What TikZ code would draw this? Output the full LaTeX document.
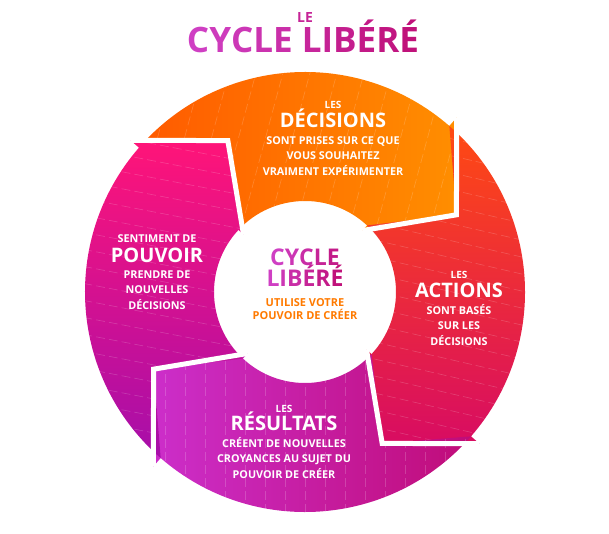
\documentclass[tikz,border=0pt]{standalone}
\usepackage{fontspec}
\setmainfont{Open Sans}
\usepackage{tkz-euclide}
\tikzset{>=stealth}
\definecolor{orangeA}{HTML}{FF5A00}
\definecolor{orangeB}{HTML}{FF8E00}
\definecolor{rougeA}{HTML}{FF4A12}
\definecolor{rougeB}{HTML}{D80C62}
\definecolor{violetA}{HTML}{CC2ECA}
\definecolor{violetB}{HTML}{C00C78}
\definecolor{roseA}{HTML}{FF1478}
\definecolor{roseB}{HTML}{A60EAA}
\definecolor{titreA}{HTML}{CF3FC3}
\definecolor{titreB}{HTML}{C0127A}
\definecolor{orangeTxt}{HTML}{FF7A00}
\newcommand{\grad}[2]{\textcolor{titreA!#1!titreB}{#2}}
\tikzset{
  bord/.style={white, line width=5pt},
  strie/.style={white, opacity=.18, line width=.6pt, dash pattern=on 9pt off 4pt},
  les/.style={text=white, font=\fontsize{10}{12}\selectfont\bfseries, text height=7.2pt, text depth=0pt},
  grand/.style={text=white, font=\fontsize{20}{24}\selectfont\bfseries, text height=14.4pt, text depth=0pt},
  petit/.style={text=white, font=\fontsize{10.8}{15.8}\selectfont\bfseries, align=center},
  centre/.style={font=\fontsize{23}{26}\selectfont\bfseries, text height=16.5pt, text depth=0pt, inner sep=1pt},
}

\begin{document}
\begin{tikzpicture}[x=1pt,y=1pt]
\useasboundingbox (0,0) rectangle (609,533);
\tkzDefPoints{305/241/O}
% pointes et barbes des fleches
\tkzDefShiftPoint[O](49:231){Do}
\tkzDefShiftPoint[O](27:170){Dt}
\tkzDefShiftPoint[O](47:84){Di}
\tkzDefShiftPoint[O](-41:231){Ao}
\tkzDefShiftPoint[O](-63:170){At}
\tkzDefShiftPoint[O](-43:84){Ai}
\tkzDefShiftPoint[O](-131:231){Ro}
\tkzDefShiftPoint[O](-153:170){Rt}
\tkzDefShiftPoint[O](-133:84){Ri}
\tkzDefShiftPoint[O](139:231){Po}
\tkzDefShiftPoint[O](117:170){Pt}
\tkzDefShiftPoint[O](137:84){Pi}
% debuts des arcs
\tkzDefShiftPoint[O](139:220){Da}
\tkzDefShiftPoint[O](47:91){Db}
\tkzDefShiftPoint[O](49:220){Aa}
\tkzDefShiftPoint[O](-43:91){Ab}
\tkzDefShiftPoint[O](-41:220){Ra}
\tkzDefShiftPoint[O](-133:91){Rb}
\tkzDefShiftPoint[O](-131:220){Pa}
\tkzDefShiftPoint[O](137:91){Pb}
% secteurs
\shade[left color=orangeA, right color=orangeB,
  path picture={\foreach \i in {-12,...,12} \draw[strie, shift={(O)}] (\i*27-70,-260) -- (\i*27+70,260);}]
  (Da) arc[start angle=139, end angle=49, radius=220]
  -- (Do) -- (Dt) -- (Di) -- (Db) arc[start angle=47, end angle=137, radius=91] -- (Pt) -- cycle;
\shade[top color=rougeA, bottom color=rougeB,
  path picture={\foreach \i in {-16,...,16} \draw[strie, shift={(O)}] (-260,\i*17+60) -- (260,\i*17-60);}]
  (Aa) arc[start angle=49, end angle=-41, radius=220]
  -- (Ao) -- (At) -- (Ai) -- (Ab) arc[start angle=-43, end angle=47, radius=91] -- (Dt) -- cycle;
\shade[left color=violetA, right color=violetB,
  path picture={\foreach \i in {-14,...,14} \draw[strie, shift={(O)}] (\i*20,-260) -- (\i*20,260);}]
  (Ra) arc[start angle=-41, end angle=-131, radius=220]
  -- (Ro) -- (Rt) -- (Ri) -- (Rb) arc[start angle=-133, end angle=-43, radius=91] -- (At) -- cycle;
\shade[top color=roseA, bottom color=roseB,
  path picture={\foreach \i in {-16,...,16} \draw[strie, shift={(O)}] (-260,\i*17+50) -- (260,\i*17-50);}]
  (Pa) arc[start angle=-131, end angle=-221, radius=220]
  -- (Po) -- (Pt) -- (Pi) -- (Pb) arc[start angle=-223, end angle=-133, radius=91] -- (Rt) -- cycle;
\draw[bord] (Do) -- (Dt) -- (Di);
\draw[bord] (Ao) -- (At) -- (Ai);
\draw[bord] (Ro) -- (Rt) -- (Ri);
\draw[bord] (Po) -- (Pt) -- (Pi);
% titre
\node[font=\fontsize{14}{16}\selectfont\bfseries, text=titreA!40!titreB, text height=10pt, text depth=0pt] (leTitre) at (305,515) {LE};
\node[font=\fontsize{35}{40}\selectfont\bfseries, text height=25pt, text depth=0pt] (cycleTitre) at (303,492.5)
  {\grad{100}{C}\grad{91}{Y}\grad{82}{C}\grad{73}{L}\grad{64}{E} \grad{45}{L}\grad{36}{I}\grad{27}{B}\grad{18}{É}\grad{9}{R}\grad{0}{É}};
% textes des secteurs
\node[les] (decLes) at (333,428) {LES};
\node[grand] (decTitre) at (333,413) {DÉCISIONS};
\node[petit] (decTexte) at (333,377) {SONT PRISES SUR CE QUE\\VOUS SOUHAITEZ\\VRAIMENT EXPÉRIMENTER};
\node[les] (actLes) at (459,258) {LES};
\node[grand] (actTitre) at (459,243) {ACTIONS};
\node[petit] (actTexte) at (459,208) {SONT BASÉS\\SUR LES\\DÉCISIONS};
\node[les] (resLes) at (284,124) {LES};
\node[grand] (resTitre) at (284,110) {RÉSULTATS};
\node[petit] (resTexte) at (284,75) {CRÉENT DE NOUVELLES\\CROYANCES AU SUJET DU\\POUVOIR DE CRÉER};
\node[les, font=\fontsize{10.8}{12}\selectfont\bfseries, text height=7.8pt] (pouLes) at (157,294) {SENTIMENT DE};
\node[grand] (pouTitre) at (157,278) {POUVOIR};
\node[petit] (pouTexte) at (157,243) {PRENDRE DE\\NOUVELLES\\DÉCISIONS};
% centre
\node[centre] (cCycle) at (305,276) {\grad{100}{C}\grad{80}{Y}\grad{60}{C}\grad{40}{L}\grad{20}{E}};
\node[centre] (cLibere) at (305,255) {\grad{100}{L}\grad{80}{I}\grad{60}{B}\grad{40}{É}\grad{20}{R}\grad{0}{É}};
\node[text=orangeTxt, font=\fontsize{11}{13}\selectfont\bfseries, align=center] (cUtilise) at (305,223.5) {UTILISE VOTRE\\POUVOIR DE CRÉER};
\end{tikzpicture}
\end{document}
